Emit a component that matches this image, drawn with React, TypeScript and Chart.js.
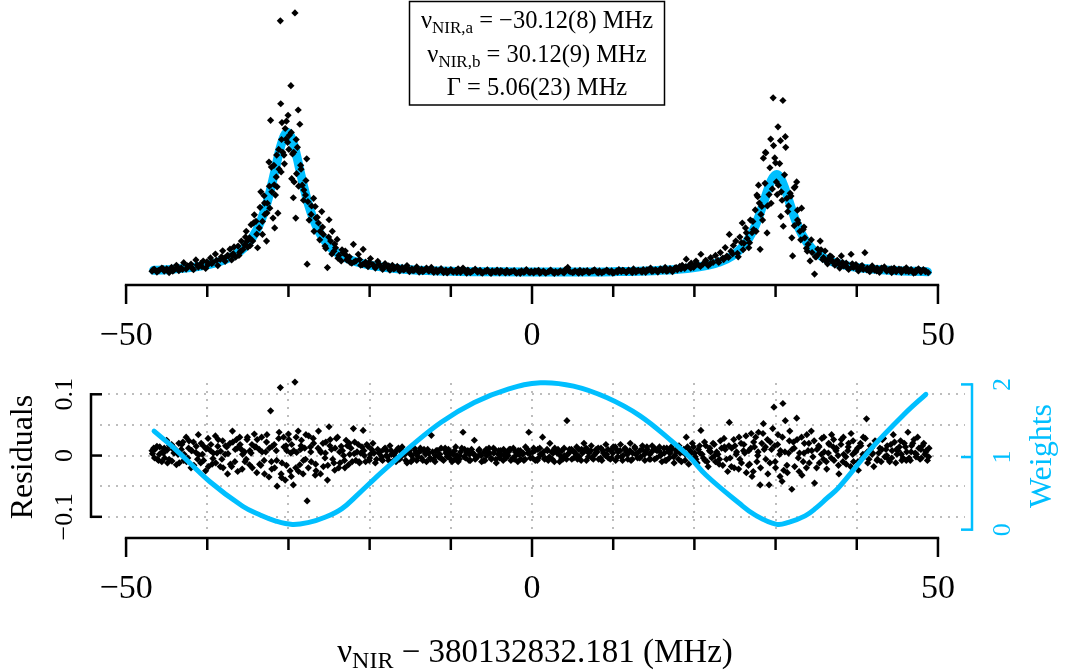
import React, { useEffect, useRef } from 'react';
import { Chart, registerables } from 'chart.js';

Chart.register(...registerables);

// ---------------- data ----------------
// top panel: measured signal (frequency offset in MHz, normalised signal)
const signalPoints: [number, number][] = [
  [-46.8, 0.018], [-46.5, 0.031], [-46.2, 0.012], [-45.9, 0.026], [-45.6, 0.04], [-45.3, 0.019], [-45.0, 0.034], [-44.7, 0.008],
  [-44.4, 0.045], [-44.1, 0.027], [-43.8, 0.06], [-43.5, 0.022], [-43.2, 0.041], [-42.9, 0.078], [-42.6, 0.033], [-42.3, 0.052],
  [-42.0, 0.068], [-41.7, 0.029], [-41.4, 0.098], [-41.1, 0.047], [-40.8, 0.071], [-40.5, 0.09], [-40.2, 0.038], [-39.9, 0.065],
  [-39.6, 0.112], [-39.3, 0.08], [-39.0, 0.139], [-38.7, 0.058], [-38.4, 0.101], [-38.1, 0.162], [-37.8, 0.088], [-37.5, 0.131],
  [-37.2, 0.174], [-37.0, 0.098], [-36.8, 0.142], [-36.5, 0.118], [-36.2, 0.196], [-36.0, 0.15], [-35.8, 0.231], [-35.6, 0.172],
  [-35.4, 0.205], [-35.2, 0.3], [-35.0, 0.188], [-34.8, 0.254], [-34.6, 0.347], [-34.4, 0.232], [-34.2, 0.417], [-34.0, 0.371],
  [-33.8, 0.184], [-33.6, 0.324], [-33.4, 0.58], [-33.2, 0.278], [-33.0, 0.552], [-32.9, 0.42], [-32.7, 0.231], [-32.6, 0.499],
  [-32.4, 0.79], [-32.3, 0.464], [-32.2, 1.086], [-32.1, 0.755], [-31.9, 0.394], [-31.8, 0.767], [-31.7, 0.324], [-31.6, 0.557],
  [-31.5, 0.685], [-31.4, 0.615], [-31.3, 0.429], [-31.2, 0.88], [-31.0, 1.79], [-30.95, 1.203], [-30.9, 0.72], [-30.8, 1.07],
  [-30.7, 0.86], [-30.5, 0.778], [-30.4, 1.028], [-30.3, 0.953], [-30.1, 0.93], [-30.05, 1.121], [-29.9, 0.98], [-29.7, 1.331],
  [-29.6, 0.673], [-29.5, 0.848], [-29.4, 0.538], [-29.3, 0.65], [-29.2, 1.846], [-29.1, 0.394], [-29.0, 0.708], [-28.9, 0.895],
  [-28.8, 1.159], [-28.6, 1.058], [-28.5, 0.767], [-28.3, 0.627], [-28.1, 0.592], [-27.9, 0.557], [-27.75, 0.813], [-27.7, 0.068],
  [-27.6, 0.51], [-27.2, 0.42], [-26.9, 0.534], [-26.7, 0.476], [-26.6, 0.394], [-26.3, 0.359], [-26.1, 0.3], [-25.9, 0.44],
  [-25.7, 0.278], [-25.5, 0.196], [-25.2, 0.044], [-25.0, 0.382], [-24.8, 0.231], [-24.6, 0.3], [-24.4, 0.16], [-24.2, 0.184],
  [-24.0, 0.243], [-23.8, 0.13], [-23.5, 0.091], [-23.3, 0.15], [-23.0, 0.161], [-22.8, 0.098], [-22.5, 0.12], [-22.2, 0.075],
  [-22.0, 0.208], [-21.7, 0.09], [-21.4, 0.138], [-21.1, 0.06], [-20.8, 0.173], [-20.5, 0.082], [-20.2, 0.05], [-19.9, 0.108],
  [-19.6, 0.065], [-19.3, 0.04], [-19.0, 0.088], [-18.7, 0.055], [-18.4, 0.03], [-18.1, 0.072], [-17.8, 0.048], [-17.5, 0.025],
  [-17.2, 0.06], [-16.9, 0.038], [-16.6, 0.052], [-16.3, 0.02], [-16.0, 0.045], [-15.7, 0.03], [-15.4, 0.058], [-15.1, 0.015],
  [-14.8, 0.035], [-14.5, 0.025], [-14.2, 0.048], [-13.9, 0.012], [-13.6, 0.032], [-13.3, 0.022], [-13.0, 0.04],
  [-36.7, 0.19], [-36.1, 0.13], [-35.3, 0.26], [-34.7, 0.2], [-34.3, 0.36], [-33.9, 0.28], [-33.5, 0.47], [-33.2, 0.37],
  [-32.95, 0.5], [-32.65, 0.43], [-32.35, 0.62], [-32.05, 0.58], [-31.75, 0.63], [-31.45, 0.84], [-31.15, 0.74], [-30.85, 0.95],
  [-30.55, 0.84], [-30.25, 1.08], [-29.95, 0.88], [-29.65, 1.0], [-29.35, 0.86], [-29.05, 0.95], [-28.75, 0.62], [-28.45, 0.74],
  [-28.15, 0.52], [-27.85, 0.66], [-27.45, 0.38], [-27.15, 0.48], [-26.85, 0.3], [-26.45, 0.4], [-26.15, 0.24], [-25.8, 0.33],
  [-25.4, 0.18], [-25.05, 0.26], [-24.65, 0.14], [-24.3, 0.21], [-23.9, 0.11], [-23.4, 0.17], [-22.9, 0.13], [-22.4, 0.08],
  [-37.9, 0.11], [-37.4, 0.125], [-36.9, 0.135], [-35.9, 0.16], [-35.1, 0.23], [-22.7, 0.105], [-21.9, 0.085], [-20.9, 0.065],
  [-12.7, 0.018], [-12.4, 0.045], [-12.1, 0.01], [-11.8, 0.028], [-11.5, 0.02], [-11.2, 0.036], [-10.9, 0.008], [-10.6, 0.025],
  [-10.3, 0.015], [-10.0, 0.03], [-9.7, 0.012], [-9.4, 0.022], [-9.1, 0.035], [-8.8, 0.01], [-8.5, 0.04], [-8.2, 0.018],
  [-7.9, 0.026], [-7.6, 0.008], [-7.3, 0.02], [-7.0, 0.032], [-6.7, 0.012], [-6.4, 0.024], [-6.1, 0.005], [-5.8, 0.018],
  [-5.5, 0.028], [-5.2, 0.01], [-4.9, 0.02], [-4.6, 0.014], [-4.3, 0.026], [-4.0, 0.006], [-3.7, 0.018], [-3.4, 0.012],
  [-3.1, 0.024], [-2.8, 0.008], [-2.5, 0.016], [-2.2, 0.022], [-1.9, 0.004], [-1.6, 0.014], [-1.3, 0.02], [-1.0, 0.01],
  [-0.7, 0.03], [-0.4, 0.012], [-0.1, 0.018], [0.2, 0.006], [0.5, 0.016], [0.8, 0.024], [1.1, 0.01], [1.4, 0.018],
  [1.7, 0.004], [2.0, 0.014], [2.3, 0.026], [2.6, 0.01], [2.9, 0.016], [3.2, 0.008], [3.5, 0.02], [3.8, 0.012],
  [4.1, 0.03], [4.4, 0.045], [4.7, 0.014], [5.0, 0.008], [5.3, 0.02], [5.6, 0.012], [5.9, 0.024], [6.2, 0.006],
  [6.5, 0.016], [6.8, 0.022], [7.1, 0.01], [7.4, 0.018], [7.7, 0.028], [8.0, 0.012], [8.3, 0.02], [8.6, 0.006],
  [8.9, 0.016], [9.2, 0.026], [9.5, 0.012], [9.8, 0.02], [10.1, 0.008], [10.4, 0.018], [10.7, 0.03], [11.0, 0.014],
  [11.3, 0.022], [11.6, 0.01], [11.9, 0.026], [12.2, 0.016], [12.5, 0.034], [12.8, 0.012], [13.1, 0.024], [13.4, 0.018],
  [13.7, 0.03], [14.0, 0.01], [14.3, 0.026], [14.6, 0.04], [14.9, 0.018], [15.2, 0.028], [15.5, 0.012], [15.8, 0.034],
  [16.1, 0.022], [16.4, 0.045], [16.7, 0.02], [17.0, 0.036], [17.3, 0.015], [17.6, 0.04], [17.9, 0.028], [18.2, 0.052],
  [18.5, 0.06], [18.8, 0.038], [19.0, 0.103], [19.3, 0.055], [19.6, 0.075], [19.9, 0.045], [20.2, 0.09], [20.5, 0.062],
  [20.8, 0.138], [21.1, 0.07], [21.4, 0.095], [21.7, 0.058], [22.0, 0.114], [22.3, 0.08], [22.6, 0.13], [22.9, 0.095],
  [23.2, 0.15], [23.5, 0.11], [23.8, 0.185], [24.0, 0.125], [24.3, 0.278], [24.5, 0.16], [24.8, 0.2], [25.1, 0.231],
  [25.3, 0.145], [25.6, 0.26], [25.9, 0.359], [26.1, 0.215], [26.3, 0.324], [26.5, 0.25], [26.7, 0.184], [26.9, 0.38],
  [27.1, 0.29], [27.3, 0.313], [27.5, 0.452], [27.7, 0.557], [27.8, 0.545], [27.9, 0.627], [28.1, 0.173], [28.2, 0.42],
  [28.3, 0.476], [28.5, 0.818], [28.75, 0.86], [28.8, 0.855], [28.95, 0.289], [29.2, 0.56], [29.4, 0.953], [29.45, 0.499],
  [29.7, 1.245], [29.75, 0.907], [30.0, 0.785], [30.1, 0.65], [30.3, 1.04], [30.35, 0.627], [30.6, 0.942], [30.65, 0.406],
  [30.7, 0.58], [30.9, 1.226], [30.95, 0.336], [31.2, 0.97], [31.25, 0.895], [31.4, 0.534], [31.6, 0.48], [31.8, 0.569],
  [32.0, 0.254], [32.1, 0.126], [32.3, 0.608], [32.4, 0.615], [32.6, 0.65], [32.7, 0.38], [32.8, 0.359], [33.0, 0.3],
  [33.2, 0.464], [33.4, 0.313], [33.6, 0.254], [33.8, 0.18], [34.0, 0.208], [34.25, 0.091], [34.5, 0.15], [34.8, -0.002],
  [35.0, 0.12], [35.2, 0.175], [35.5, 0.231], [35.8, 0.1], [36.1, 0.161], [36.4, 0.07], [36.7, 0.126], [37.0, 0.085],
  [37.3, 0.06], [37.6, 0.095], [37.9, 0.04], [38.1, 0.126], [38.4, 0.055], [38.7, 0.075], [39.0, 0.03], [39.3, 0.138],
  [39.6, 0.045], [39.9, 0.065], [40.2, 0.02], [40.5, 0.05], [40.8, 0.03], [41.0, 0.149], [41.3, 0.04], [41.6, 0.015],
  [41.9, 0.055], [42.2, 0.025], [42.5, 0.04], [42.8, 0.01], [43.1, 0.035], [43.4, 0.048], [43.7, 0.018], [44.0, 0.03],
  [44.3, 0.008], [44.6, 0.04], [44.9, 0.02], [45.2, 0.032], [45.5, 0.01], [45.8, 0.028], [46.1, 0.042], [46.4, 0.015],
  [46.7, 0.03], [47.0, 0.005], [47.3, 0.025], [47.6, 0.035], [47.9, 0.012], [48.2, 0.03], [48.5, 0.02], [48.8, 0.008],
  [23.0, 0.08], [23.6, 0.1], [24.2, 0.115], [24.7, 0.14], [35.3, 0.14], [35.9, 0.115], [36.5, 0.1], [37.1, 0.085],
  [37.8, 0.07], [38.5, 0.06], [39.5, 0.05],
  [25.4, 0.12], [25.8, 0.22], [26.0, 0.17], [26.4, 0.29], [26.8, 0.22], [27.2, 0.37], [27.6, 0.3], [28.0, 0.5],
  [28.4, 0.38], [28.7, 0.64], [29.0, 0.48], [29.3, 0.75], [29.6, 0.6], [29.9, 0.82], [30.2, 0.56], [30.5, 0.78],
  [30.8, 0.52], [31.1, 0.7], [31.5, 0.44], [31.9, 0.55], [32.3, 0.34], [32.7, 0.45], [33.1, 0.24], [33.5, 0.33],
  [33.9, 0.16], [34.4, 0.24], [34.9, 0.12], [35.6, 0.17], [36.2, 0.09], [36.9, 0.12],
  [-46.65, 0.03], [-46.05, 0.022], [-45.45, 0.036], [-44.85, 0.028], [-44.25, 0.018], [-43.65, 0.044], [-43.05, 0.03], [-42.45, 0.056],
  [-41.85, 0.04], [-41.25, 0.062], [-40.65, 0.05], [-40.05, 0.085], [-39.45, 0.072], [-38.85, 0.095], [-38.25, 0.12],
  [-21.25, 0.1], [-20.65, 0.07], [-20.05, 0.08], [-19.45, 0.055], [-18.85, 0.068], [-18.25, 0.048], [-17.65, 0.055], [-17.05, 0.035],
  [-16.45, 0.042], [-15.85, 0.028], [-15.25, 0.036], [-14.65, 0.022], [-14.05, 0.03], [-13.45, 0.014], [-12.85, 0.028], [-12.25, 0.02],
  [-11.65, 0.012], [-11.05, 0.022], [-10.45, 0.006], [-9.85, 0.018], [-9.25, 0.01], [-8.65, 0.024], [-8.05, 0.004], [-7.45, 0.014],
  [-6.85, 0.02], [-6.25, 0.008], [-5.65, 0.016], [-5.05, 0.002], [-4.45, 0.012], [-3.85, 0.022], [-3.25, 0.006], [-2.65, 0.014],
  [-2.05, 0.01], [-1.45, 0.002], [-0.85, 0.016], [-0.25, 0.008], [0.35, 0.02], [0.95, 0.004], [1.55, 0.012], [2.15, 0.018],
  [2.75, 0.002], [3.35, 0.014], [3.95, 0.006], [4.55, 0.02], [5.15, 0.012], [5.75, 0.004], [6.35, 0.018], [6.95, 0.01],
  [7.55, 0.022], [8.15, 0.006], [8.75, 0.014], [9.35, 0.018], [9.95, 0.004], [10.55, 0.012], [11.15, 0.024], [11.75, 0.016],
  [12.35, 0.008], [12.95, 0.02], [13.55, 0.012], [14.15, 0.028], [14.75, 0.016], [15.35, 0.022], [15.95, 0.03], [16.55, 0.018],
  [17.15, 0.028], [17.75, 0.044], [18.35, 0.034], [18.95, 0.05], [19.55, 0.04], [20.15, 0.066], [20.75, 0.052], [21.35, 0.085],
  [21.95, 0.07],
  [38.25, 0.08], [38.85, 0.045], [39.45, 0.07], [40.05, 0.04], [40.65, 0.058], [41.25, 0.028], [41.85, 0.044], [42.45, 0.02],
  [43.05, 0.04], [43.65, 0.026], [44.25, 0.034], [44.85, 0.014], [45.45, 0.03], [46.05, 0.018], [46.65, 0.026], [47.25, 0.01],
  [47.85, 0.022], [48.45, 0.014],
];

// top panel: fitted two-peak profile
const fitFreq = [
  -46.6, -45, -43, -41, -39, -37, -36, -35, -34, -33.5, -33, -32.5, -32, -31.5, -31, -30.5, -30.12, -29.5, -29, -28.5,
  -28, -27.5, -27, -26.5, -26, -25, -24, -23, -22, -20, -18, -15, -10, -5, 0, 5, 10, 15, 18, 20,
  22, 23, 24, 25, 26, 26.5, 27, 27.5, 28, 28.5, 29, 29.5, 30.12, 30.5, 31, 31.5, 32, 32.5, 33, 33.5,
  34, 35, 36, 37, 39, 41, 43, 45, 47, 48.7,
];
const fitValue = [
  0.024, 0.029, 0.038, 0.052, 0.076, 0.12, 0.157, 0.213, 0.299, 0.36, 0.437, 0.531, 0.645, 0.771, 0.893, 0.979, 1.001, 0.944, 0.837, 0.71,
  0.588, 0.484, 0.398, 0.329, 0.275, 0.197, 0.147, 0.113, 0.09, 0.061, 0.044, 0.029, 0.018, 0.014, 0.012, 0.012, 0.015, 0.022, 0.032, 0.044,
  0.064, 0.081, 0.104, 0.14, 0.194, 0.232, 0.28, 0.34, 0.413, 0.498, 0.587, 0.662, 0.702, 0.687, 0.626, 0.542, 0.453, 0.373, 0.307, 0.253,
  0.211, 0.15, 0.111, 0.085, 0.054, 0.038, 0.028, 0.021, 0.017, 0.014,
];

// bottom panel: residuals
const residualPoints: [number, number][] = [
  [-46.8, 0.008], [-46.5, -0.004], [-46.2, 0.015], [-45.9, 0.002], [-45.6, -0.01], [-45.3, 0.012], [-45.0, 0.025], [-44.7, -0.006],
  [-44.4, 0.018], [-44.1, 0.004], [-43.8, -0.015], [-43.5, 0.02], [-43.2, 0.01], [-42.9, -0.008], [-42.6, 0.03], [-42.3, 0.012],
  [-42.0, -0.02], [-41.7, 0.022], [-41.4, 0.005], [-41.1, 0.034], [-40.8, -0.012], [-40.5, 0.016], [-40.2, -0.025], [-39.9, 0.028],
  [-39.6, 0.008], [-39.3, -0.005], [-39.0, 0.032], [-38.7, 0.015], [-38.4, -0.018], [-38.1, 0.024], [-37.8, 0.002], [-37.5, -0.03],
  [-37.2, 0.02], [-36.9, 0.04], [-36.6, -0.01], [-36.3, 0.012], [-36.0, 0.03], [-35.7, -0.022], [-35.4, 0.006], [-35.1, 0.026],
  [-34.8, -0.015], [-34.5, 0.018], [-34.2, 0.035], [-33.9, -0.028], [-33.6, 0.01], [-33.3, 0.03], [-33.0, -0.008], [-32.7, 0.022],
  [-32.4, -0.035], [-32.2, 0.073], [-32.0, 0.015], [-31.7, -0.02], [-31.4, -0.05], [-31.2, 0.028], [-31.0, 0.111], [-30.8, -0.012],
  [-30.6, 0.03], [-30.4, -0.04], [-30.2, 0.008], [-30.0, 0.035], [-29.8, -0.025], [-29.6, 0.018], [-29.4, -0.048], [-29.2, 0.12],
  [-29.0, 0.005], [-28.8, 0.04], [-28.6, -0.015], [-28.4, 0.025], [-28.2, -0.03], [-28.0, 0.012], [-27.7, -0.074], [-27.5, 0.032],
  [-27.2, -0.01], [-26.9, 0.02], [-26.6, -0.025], [-26.3, 0.04], [-26.0, 0.005], [-25.7, -0.018], [-25.4, 0.022], [-25.2, -0.04],
  [-25.0, 0.047], [-24.7, 0.01], [-24.4, -0.012], [-24.1, 0.028], [-23.8, -0.02], [-23.5, 0.015], [-23.2, 0.0], [-22.9, 0.025],
  [-22.6, -0.015], [-22.3, 0.012], [-22.0, 0.044], [-21.7, -0.008], [-21.4, 0.018], [-21.1, 0.004], [-20.8, 0.041], [-20.5, -0.01],
  [-20.2, 0.015], [-19.9, 0.002], [-19.6, 0.02], [-19.3, -0.012], [-19.0, 0.01],
  [-46.6, 0.012], [-46.0, -0.008], [-45.4, 0.004], [-44.9, -0.012], [-44.2, 0.01], [-43.6, 0.002], [-43.0, 0.022], [-42.4, -0.004],
  [-41.9, 0.008], [-41.2, -0.006], [-40.6, 0.002], [-40.0, 0.012], [-39.4, -0.014], [-38.8, 0.004], [-38.2, -0.006], [-37.6, 0.014],
  [-37.0, -0.018], [-36.4, 0.026], [-35.8, 0.01], [-35.2, -0.006], [-34.6, 0.004], [-34.0, 0.014], [-33.4, -0.016], [-32.8, 0.006],
  [-32.1, -0.01], [-31.5, 0.008], [-30.9, -0.03], [-30.3, 0.016], [-29.7, 0.004], [-29.1, -0.02], [-28.5, 0.01], [-27.9, -0.006],
  [-27.3, 0.014], [-26.7, -0.032], [-26.1, 0.008], [-25.5, -0.004], [-24.9, 0.016], [-24.3, -0.024], [-23.7, 0.006], [-23.1, -0.008],
  [-22.5, 0.02], [-21.9, 0.003], [-21.3, -0.01], [-20.7, 0.008], [-20.0, -0.004],
  [-46.75, 0.003], [-46.45, 0.01], [-46.15, -0.006], [-45.85, 0.014], [-45.55, 0.006], [-45.25, -0.004], [-44.95, 0.009], [-44.65, 0.016],
  [-44.35, -0.009], [-44.05, 0.012], [-43.75, 0.005], [-43.45, -0.012], [-43.15, 0.018], [-42.85, 0.002], [-42.55, -0.01], [-42.25, 0.024],
  [-41.95, 0.008], [-41.65, -0.016], [-41.35, 0.015], [-41.05, 0.001], [-40.75, 0.02], [-40.45, -0.008], [-40.15, 0.011], [-39.85, -0.018],
  [-39.55, 0.018], [-39.25, 0.004], [-38.95, -0.012], [-38.65, 0.026], [-38.35, 0.007], [-38.05, -0.02], [-37.75, 0.016], [-37.45, 0.003],
  [-37.15, -0.014], [-36.85, 0.022], [-36.55, 0.01], [-36.25, -0.026], [-35.95, 0.018], [-35.65, 0.002], [-35.35, -0.01], [-35.05, 0.03],
  [-34.75, 0.008], [-34.45, -0.02], [-34.15, 0.014], [-33.85, 0.026], [-33.55, -0.014], [-33.25, 0.006], [-32.95, -0.03], [-32.65, 0.034],
  [-32.35, 0.012], [-32.05, -0.022], [-31.75, 0.018], [-31.45, -0.008], [-31.15, 0.038], [-30.85, -0.036], [-30.55, 0.014], [-30.25, -0.016],
  [-29.95, 0.026], [-29.65, -0.034], [-29.35, 0.008], [-29.05, 0.03], [-28.75, -0.026], [-28.45, 0.016], [-28.15, -0.008], [-27.85, 0.034],
  [-27.55, -0.02], [-27.25, 0.006], [-26.95, 0.028], [-26.65, -0.014], [-26.35, 0.012], [-26.05, -0.03], [-25.75, 0.02], [-25.45, 0.004],
  [-25.15, -0.016], [-24.85, 0.026], [-24.55, -0.006], [-24.25, 0.012], [-23.95, 0.03], [-23.65, -0.012], [-23.35, 0.008], [-23.05, -0.02],
  [-22.75, 0.016], [-22.45, 0.002], [-22.15, -0.01], [-21.85, 0.022], [-21.55, 0.006], [-21.25, -0.012], [-20.95, 0.014], [-20.65, 0.0],
  [-20.35, 0.018], [-20.05, -0.008], [-19.75, 0.01], [-19.45, 0.004], [-19.15, -0.006],
  [-18.7, 0.006], [-18.4, -0.008], [-18.1, 0.012], [-17.8, -0.002], [-17.5, 0.016], [-17.2, -0.01], [-16.9, 0.004], [-16.6, 0.01],
  [-16.3, -0.006], [-16.0, 0.014], [-15.7, 0.002], [-15.4, -0.012], [-15.1, 0.008], [-14.8, 0.0], [-14.5, 0.012], [-14.2, -0.008],
  [-13.9, 0.006], [-13.6, -0.004], [-13.3, 0.01], [-13.0, -0.01], [-12.7, 0.004], [-12.4, 0.033], [-12.1, -0.006], [-11.8, 0.008],
  [-11.5, -0.002], [-11.2, 0.012], [-10.9, -0.008], [-10.6, 0.004], [-10.3, 0.01], [-10.0, -0.006], [-9.7, 0.002], [-9.4, 0.014],
  [-9.1, -0.01], [-8.8, 0.006], [-8.5, 0.038], [-8.2, -0.004], [-7.9, 0.008], [-7.6, -0.008], [-7.3, 0.004], [-7.1, 0.025],
  [-6.8, -0.002], [-6.5, 0.01], [-6.2, -0.01], [-5.9, 0.006], [-5.6, 0.0], [-5.3, 0.012], [-5.0, -0.006], [-4.7, 0.004],
  [-4.4, -0.012], [-4.1, 0.008], [-3.8, 0.002], [-3.5, 0.01], [-3.2, -0.004], [-2.9, 0.006], [-2.6, -0.008], [-2.3, 0.012],
  [-2.0, 0.0], [-1.7, 0.008], [-1.4, -0.006], [-1.1, 0.004], [-0.8, 0.014], [-0.4, 0.038], [-0.2, -0.004], [0.1, 0.006],
  [0.4, -0.008], [0.7, 0.01], [1.0, 0.002], [1.3, 0.03], [1.6, -0.004], [1.9, 0.008], [2.2, 0.02], [2.5, -0.006],
  [2.8, 0.012], [3.1, 0.004], [3.4, -0.01], [3.7, 0.008], [4.0, 0.0], [4.3, 0.057], [4.6, 0.01], [4.9, -0.006],
  [5.2, 0.006], [5.5, 0.014], [5.8, -0.002], [6.1, 0.01], [6.4, 0.02], [6.7, -0.008], [7.0, 0.004], [7.3, 0.016],
  [7.6, 0.0], [7.9, 0.01], [8.2, -0.006], [8.5, 0.012], [8.8, 0.004], [9.1, 0.018], [9.4, -0.004], [9.7, 0.008],
  [10.0, 0.014], [10.3, -0.008], [10.6, 0.006], [10.9, 0.018], [11.2, 0.0], [11.5, 0.01], [11.8, -0.006], [12.1, 0.02],
  [12.4, 0.004], [12.7, 0.012], [13.0, -0.004], [13.3, 0.008], [13.6, 0.016], [13.9, -0.008], [14.2, 0.01], [14.5, 0.002],
  [14.8, 0.016], [15.1, -0.006], [15.4, 0.008], [15.7, 0.014], [16.0, -0.01], [16.3, 0.004], [16.6, 0.012], [16.9, -0.004],
  [17.2, 0.01], [17.5, -0.012], [17.8, 0.006], [18.1, 0.016],
  [-18.5, -0.002], [-17.9, 0.008], [-17.3, 0.002], [-16.7, -0.004], [-16.1, 0.006], [-15.5, 0.004], [-14.9, -0.01], [-14.3, 0.004],
  [-13.7, 0.008], [-13.1, 0.002], [-12.5, -0.006], [-11.9, 0.0], [-11.3, -0.004], [-10.7, 0.012], [-10.1, 0.002], [-9.5, -0.006],
  [-8.9, 0.0], [-8.3, 0.01], [-7.7, 0.002], [-7.0, -0.006], [-6.4, 0.002], [-5.8, -0.008], [-5.2, 0.004], [-4.6, 0.01],
  [-4.0, -0.004], [-3.4, 0.0], [-2.8, 0.01], [-2.2, -0.006], [-1.6, 0.002], [-1.0, -0.008], [-0.5, 0.004], [0.2, 0.012],
  [0.8, -0.004], [1.4, 0.006], [2.0, -0.008], [2.6, 0.004], [3.2, 0.01], [3.8, -0.006], [4.4, 0.002], [5.0, 0.008],
  [5.6, -0.006], [6.2, 0.004], [6.8, 0.01], [7.4, -0.004], [8.0, 0.006], [8.6, -0.008], [9.2, 0.002], [9.8, -0.004],
  [10.4, 0.01], [11.0, -0.002], [11.6, 0.006], [12.2, -0.008], [12.8, 0.002], [13.4, -0.002], [14.0, 0.006], [14.6, -0.006],
  [15.2, 0.01], [15.8, 0.0], [16.4, -0.008], [17.0, 0.004], [17.6, 0.0],
  [-18.85, 0.004], [-18.55, -0.006], [-18.25, 0.01], [-17.95, 0.0], [-17.65, -0.008], [-17.35, 0.008], [-17.05, 0.002], [-16.75, -0.01],
  [-16.45, 0.012], [-16.15, -0.002], [-15.85, 0.006], [-15.55, -0.008], [-15.25, 0.01], [-14.95, 0.002], [-14.65, -0.006], [-14.35, 0.008],
  [-14.05, -0.002], [-13.75, 0.012], [-13.45, -0.008], [-13.15, 0.004], [-12.85, 0.01], [-12.55, -0.004], [-12.25, 0.006], [-11.95, -0.01],
  [-11.65, 0.008], [-11.35, 0.002], [-11.05, -0.006], [-10.75, 0.01], [-10.45, -0.002], [-10.15, 0.006], [-9.85, -0.01], [-9.55, 0.008],
  [-9.25, 0.0], [-8.95, -0.006], [-8.65, 0.012], [-8.35, -0.002], [-8.05, 0.004], [-7.75, -0.008], [-7.45, 0.01], [-7.15, 0.002],
  [-6.85, -0.004], [-6.55, 0.008], [-6.25, 0.0], [-5.95, -0.008], [-5.65, 0.01], [-5.35, 0.004], [-5.05, -0.004], [-4.75, 0.012],
  [-4.45, -0.006], [-4.15, 0.002], [-3.85, 0.008], [-3.55, -0.008], [-3.25, 0.006], [-2.95, 0.0], [-2.65, 0.01], [-2.35, -0.004],
  [-2.05, 0.006], [-1.75, -0.01], [-1.45, 0.008], [-1.15, 0.002], [-0.85, -0.006], [-0.55, 0.01], [-0.25, 0.004], [0.05, -0.004],
  [0.35, 0.008], [0.65, -0.008], [0.95, 0.012], [1.25, 0.002], [1.55, -0.006], [1.85, 0.01], [2.15, -0.002], [2.45, 0.006],
  [2.75, -0.01], [3.05, 0.008], [3.35, 0.002], [3.65, -0.004], [3.95, 0.012], [4.25, -0.006], [4.55, 0.004], [4.85, 0.01],
  [5.15, -0.004], [5.45, 0.002], [5.75, 0.01], [6.05, -0.008], [6.35, 0.006], [6.65, 0.012], [6.95, -0.002], [7.25, 0.008],
  [7.55, -0.006], [7.85, 0.004], [8.15, 0.012], [8.45, -0.004], [8.75, 0.008], [9.05, 0.0], [9.35, 0.01], [9.65, -0.006],
  [9.95, 0.004], [10.25, 0.014], [10.55, -0.002], [10.85, 0.008], [11.15, -0.008], [11.45, 0.012], [11.75, 0.002], [12.05, 0.008],
  [12.35, -0.006], [12.65, 0.014], [12.95, 0.004], [13.25, -0.004], [13.55, 0.01], [13.85, 0.002], [14.15, 0.014], [14.45, -0.006],
  [14.75, 0.006], [15.05, 0.012], [15.35, -0.004], [15.65, 0.008], [15.95, 0.002], [16.25, 0.012], [16.55, -0.008], [16.85, 0.006],
  [17.15, 0.014], [17.45, -0.002], [17.75, 0.01], [18.05, -0.006], [18.25, 0.004],
  [18.4, -0.01], [18.7, 0.01], [19.0, 0.03], [19.3, -0.014], [19.6, 0.004], [19.9, 0.014], [20.2, -0.006], [20.5, 0.01],
  [20.8, 0.041], [21.1, -0.004], [21.4, 0.016], [21.7, -0.018], [22.0, 0.006], [22.3, 0.02], [22.6, -0.01], [22.9, 0.002],
  [23.2, 0.024], [23.5, -0.016], [23.8, 0.01], [24.1, -0.026], [24.3, 0.054], [24.6, 0.012], [24.9, -0.02], [25.2, 0.006],
  [25.5, 0.03], [25.8, -0.012], [26.1, 0.018], [26.4, -0.028], [26.7, 0.008], [27.0, 0.036], [27.1, -0.034], [27.4, 0.014],
  [27.7, -0.01], [27.9, 0.038], [28.1, -0.048], [28.3, 0.02], [28.5, 0.052], [28.8, -0.006], [29.0, 0.026], [29.2, -0.048],
  [29.5, 0.01], [29.8, 0.079], [30.0, -0.02], [30.3, 0.034], [30.5, 0.002], [30.8, -0.042], [30.9, 0.085], [31.2, 0.057],
  [31.4, -0.016], [31.7, 0.024], [32.0, -0.055], [32.3, 0.012], [32.6, 0.061], [32.9, -0.026], [33.2, 0.03], [33.5, 0.004],
  [33.8, -0.02], [34.1, 0.02], [34.4, 0.04], [34.8, -0.045], [35.1, 0.01], [35.4, -0.012], [35.7, 0.028], [36.0, 0.006],
  [36.3, -0.022], [36.6, 0.018], [36.9, 0.034], [37.2, -0.008], [37.5, 0.012], [37.8, -0.03], [38.1, 0.026], [38.4, 0.002],
  [38.7, -0.014], [39.0, 0.02], [39.3, 0.036], [39.6, -0.01], [39.9, 0.008], [40.2, -0.024], [40.5, 0.016], [40.8, 0.03],
  [41.2, 0.06], [41.5, -0.006], [41.8, 0.012], [42.1, -0.018], [42.4, 0.022], [42.7, 0.004], [43.0, -0.01], [43.3, 0.028],
  [43.6, 0.01], [43.9, -0.006], [44.2, 0.018], [44.5, 0.034], [44.8, -0.012], [45.1, 0.008], [45.4, 0.024], [45.7, -0.004],
  [46.0, 0.014], [46.3, 0.038], [46.6, -0.008], [46.9, 0.02], [47.2, 0.004], [47.5, 0.03], [47.8, -0.006], [48.1, 0.016],
  [48.4, 0.002], [48.7, -0.008], [48.9, 0.012],
  [18.9, 0.002], [19.5, 0.008], [20.1, -0.002], [20.7, 0.004], [21.3, -0.008], [21.9, 0.012], [22.5, 0.0], [23.1, -0.006],
  [23.7, 0.014], [24.4, -0.004], [25.0, 0.016], [25.6, -0.006], [26.2, 0.004], [26.8, -0.014], [27.3, 0.022], [27.8, 0.0],
  [28.6, 0.01], [29.3, -0.012], [29.9, 0.016], [30.6, 0.008], [31.0, -0.024], [31.6, 0.004], [32.2, 0.022], [32.8, -0.004],
  [33.4, -0.01], [34.0, 0.008], [34.6, -0.002], [35.3, 0.016], [35.9, -0.006], [36.5, 0.004], [37.1, 0.014], [37.7, 0.0],
  [38.3, -0.01], [38.9, 0.008], [39.5, 0.002], [40.1, 0.012], [40.7, -0.004], [41.3, 0.006], [41.9, 0.002], [42.5, -0.008],
  [43.1, 0.01], [43.7, 0.0], [44.3, -0.004], [44.9, 0.01], [45.5, 0.002], [46.1, -0.008], [46.7, 0.006], [47.3, -0.002],
  [47.9, 0.01], [48.5, 0.006],
  [18.55, 0.006], [18.85, -0.008], [19.15, 0.014], [19.45, -0.002], [19.75, 0.02], [20.05, 0.004], [20.35, -0.012], [20.65, 0.016],
  [20.95, 0.002], [21.25, 0.022], [21.55, -0.01], [21.85, 0.008], [22.15, -0.004], [22.45, 0.018], [22.75, 0.006], [23.05, -0.014],
  [23.35, 0.012], [23.65, 0.028], [23.95, -0.006], [24.25, 0.016], [24.55, -0.018], [24.85, 0.026], [25.15, 0.002], [25.45, -0.022],
  [25.75, 0.02], [26.05, 0.008], [26.35, 0.032], [26.65, -0.016], [26.95, 0.012], [27.25, -0.026], [27.55, 0.03], [27.85, 0.006],
  [28.15, -0.02], [28.45, 0.036], [28.75, 0.014], [29.05, -0.03], [29.35, 0.022], [29.65, 0.044], [29.95, -0.01], [30.25, 0.018],
  [30.55, -0.034], [30.85, 0.03], [31.15, 0.006], [31.45, -0.028], [31.75, 0.04], [32.05, 0.01], [32.35, -0.018], [32.65, 0.026],
  [32.95, 0.004], [33.25, -0.032], [33.55, 0.02], [33.85, 0.034], [34.15, -0.012], [34.45, 0.008], [34.75, 0.024], [35.05, -0.02],
  [35.35, 0.014], [35.65, 0.002], [35.95, 0.03], [36.25, -0.01], [36.55, 0.02], [36.85, -0.004], [37.15, 0.026], [37.45, 0.008],
  [37.75, -0.016], [38.05, 0.018], [38.35, 0.03], [38.65, -0.002], [38.95, 0.014], [39.25, -0.018], [39.55, 0.024], [39.85, 0.006],
  [40.15, -0.01], [40.45, 0.02], [40.75, 0.002], [41.05, 0.028], [41.35, -0.012], [41.65, 0.016], [41.95, 0.004], [42.25, 0.024],
  [42.55, -0.006], [42.85, 0.012], [43.15, 0.026], [43.45, -0.002], [43.75, 0.016], [44.05, -0.01], [44.35, 0.008], [44.65, 0.022],
  [44.95, 0.002], [45.25, 0.014], [45.55, -0.008], [45.85, 0.02], [46.15, 0.006], [46.45, -0.004], [46.75, 0.016], [47.05, 0.026],
  [47.35, 0.002], [47.65, 0.012], [47.95, -0.004], [48.25, 0.02], [48.55, 0.008], [48.85, -0.002],
];

// bottom panel: weights curve (right axis)
const weightFreq = [
  -46.55, -43.79, -39.71, -35.64, -33.6, -31.56, -29.52, -27.48, -25.5, -23.41, -21.4, -19.34, -17.3, -15.26, -11.19, -7.11,
  -3.03, 1.04, 5.11, 9.19, 13.26, 17.33, 19.38, 21.42, 25.49, 27.5, 30.13, 31.6, 33.64, 35.0, 36.3, 37.71, 41.78, 45.87, 48.51,
];
const weightValue = [
  1.356, 1.093, 0.663, 0.322, 0.208, 0.118, 0.072, 0.1, 0.17, 0.29, 0.49, 0.707, 0.912, 1.116, 1.479, 1.751,
  1.932, 2.023, 1.977, 1.819, 1.57, 1.207, 1.003, 0.753, 0.367, 0.2, 0.073, 0.1, 0.19, 0.3, 0.43, 0.571, 1.116, 1.592, 1.864,
];

// axes
const freqTicks = [-50, -40, -30, -20, -10, 0, 10, 20, 30, 40, 50];
const freqLabels = [-50, 0, 50];
const gridFreqs = [-40, -30, -20, -10, 0, 10, 20, 30, 40];
const residualTicks = [0.1, 0, -0.1];
const residualGrid = [0.1, 0.05, 0, -0.05, -0.1];
const weightTicks = [0, 1, 2];

const boxLines = [
  [{ t: 'ν' }, { t: 'NIR,a', sub: true }, { t: ' = −30.12(8) MHz' }],
  [{ t: 'ν' }, { t: 'NIR,b', sub: true }, { t: ' = 30.12(9) MHz' }],
  [{ t: 'Γ = 5.06(23) MHz' }],
];
const xTitle = [{ t: 'ν' }, { t: 'NIR', sub: true }, { t: ' − 380132832.181 (MHz)' }];
const yTitleLeft = 'Residuals';
const yTitleRight = 'Weights';

// ---------------- layout / style ----------------
const W = 1068;
const H = 671;
const FONT = '"Liberation Serif", "Times New Roman", Times, serif';
const CYAN = '#00BFFF';

// pixel anchors of each scale
const X_ANCHOR = { v0: -50, p0: 123, v1: 50, p1: 941 };
const SIG_ANCHOR = { v0: 0, p0: 273, v1: 1, p1: 130 };
const RES_ANCHOR = { v0: 0, p0: 457, v1: 0.1, p1: 395 };
const W_ANCHOR = { v0: 0, p0: 532, v1: 2, p1: 385 };

function valAt(a: { v0: number; p0: number; v1: number; p1: number }, p: number) {
  return a.v0 + ((p - a.p0) * (a.v1 - a.v0)) / (a.p1 - a.p0);
}

const TOP_AXIS_Y = 285;
const BOT_AXIS_Y = 538;
const TICK_MINOR = 12;
const TICK_MAJOR = 19;
const TOP_LABEL_BASE = 345;
const BOT_LABEL_BASE = 598;
const LEFT_AXIS_X = 91;
const RIGHT_AXIS_X = 972;
const GRID_BOX = { left: 100, right: 965, top: 383, bottom: 530 };
const MARK_R = 3.6;

const fmt = (v: number) => (v < 0 ? '\u2212' + String(-v) : String(v));

type Part = { t: string; sub?: boolean };

function drawRich(ctx: CanvasRenderingContext2D, parts: Part[], cx: number, base: number, size: number, subSize: number, drop: number) {
  let total = 0;
  const widths: number[] = [];
  for (const p of parts) {
    ctx.font = `${p.sub ? subSize : size}px ${FONT}`;
    const w = ctx.measureText(p.t).width;
    widths.push(w);
    total += w;
  }
  let x = cx - total / 2;
  ctx.textAlign = 'left';
  ctx.textBaseline = 'alphabetic';
  parts.forEach((p, i) => {
    ctx.font = `${p.sub ? subSize : size}px ${FONT}`;
    ctx.fillText(p.t, x, p.sub ? base + drop : base);
    x += widths[i];
  });
}

function rotText(ctx: CanvasRenderingContext2D, text: string, x: number, y: number, size: number, color: string) {
  ctx.save();
  ctx.translate(x, y);
  ctx.rotate(-Math.PI / 2);
  ctx.font = `${size}px ${FONT}`;
  ctx.fillStyle = color;
  ctx.textAlign = 'center';
  ctx.textBaseline = 'middle';
  ctx.fillText(text, 0, 0);
  ctx.restore();
}

function seg(ctx: CanvasRenderingContext2D, x1: number, y1: number, x2: number, y2: number) {
  ctx.beginPath();
  ctx.moveTo(x1, y1);
  ctx.lineTo(x2, y2);
  ctx.stroke();
}

const rAxesPlugin = {
  id: 'rAxes',
  beforeDatasetsDraw(chart: any) {
    const ctx: CanvasRenderingContext2D = chart.ctx;
    const xs = chart.scales.x;
    const yr = chart.scales.yRes;
    ctx.save();
    ctx.strokeStyle = '#bdbdbd';
    ctx.lineWidth = 2;
    ctx.setLineDash([2, 6]);
    for (const f of gridFreqs) {
      const px = Math.round(xs.getPixelForValue(f));
      seg(ctx, px, GRID_BOX.top, px, GRID_BOX.bottom);
    }
    for (const r of residualGrid) {
      const py = Math.round(yr.getPixelForValue(r));
      seg(ctx, GRID_BOX.left, py, GRID_BOX.right, py);
    }
    ctx.restore();
  },
  afterDatasetsDraw(chart: any) {
    const ctx: CanvasRenderingContext2D = chart.ctx;
    const xs = chart.scales.x;
    const yr = chart.scales.yRes;
    const yw = chart.scales.yW;
    ctx.save();
    ctx.lineCap = 'butt';
    ctx.lineWidth = 2.5;
    ctx.strokeStyle = '#000';
    ctx.fillStyle = '#000';

    // x axes (top and bottom panels)
    for (const [ay, lb] of [[TOP_AXIS_Y, TOP_LABEL_BASE], [BOT_AXIS_Y, BOT_LABEL_BASE]]) {
      const x0 = xs.getPixelForValue(freqTicks[0]);
      const x1 = xs.getPixelForValue(freqTicks[freqTicks.length - 1]);
      seg(ctx, x0 - 1.25, ay, x1 + 1.25, ay);
      for (const t of freqTicks) {
        const px = xs.getPixelForValue(t);
        const len = freqLabels.includes(t) ? TICK_MAJOR : TICK_MINOR;
        seg(ctx, px, ay, px, ay + len);
      }
      ctx.font = `34px ${FONT}`;
      ctx.textAlign = 'center';
      ctx.textBaseline = 'alphabetic';
      for (const t of freqLabels) {
        ctx.fillText(fmt(t), xs.getPixelForValue(t), lb);
      }
    }

    // left (residual) axis
    const r0 = yr.getPixelForValue(residualTicks[0]);
    const r1 = yr.getPixelForValue(residualTicks[residualTicks.length - 1]);
    seg(ctx, LEFT_AXIS_X, r0 - 1.25, LEFT_AXIS_X, r1 + 1.25);
    for (const t of residualTicks) {
      const py = yr.getPixelForValue(t);
      seg(ctx, LEFT_AXIS_X, py, LEFT_AXIS_X + 11, py);
      rotText(ctx, fmt(t), 65, py, 26, '#000');
    }
    rotText(ctx, yTitleLeft, 24, 457, 32, '#000');

    // right (weights) axis
    ctx.strokeStyle = CYAN;
    const w0 = yw.getPixelForValue(weightTicks[0]);
    const w1 = yw.getPixelForValue(weightTicks[weightTicks.length - 1]);
    seg(ctx, RIGHT_AXIS_X, w0 + 1.25, RIGHT_AXIS_X, w1 - 1.25);
    for (const t of weightTicks) {
      const py = yw.getPixelForValue(t);
      seg(ctx, RIGHT_AXIS_X, py, RIGHT_AXIS_X - 11, py);
      rotText(ctx, fmt(t), 1003, py, 26, CYAN);
    }
    rotText(ctx, yTitleRight, 1043, 456, 32, CYAN);

    // x title
    ctx.fillStyle = '#000';
    drawRich(ctx, xTitle, 535, 662, 33, 24, 6);

    // box with fit results
    ctx.fillStyle = '#fff';
    ctx.fillRect(409, 1, 256, 104);
    ctx.strokeStyle = '#000';
    ctx.lineWidth = 1.5;
    ctx.strokeRect(409.5, 1.5, 255, 103.5);
    ctx.fillStyle = '#000';
    const bases = [28, 62, 95];
    boxLines.forEach((ln, i) => drawRich(ctx, ln as Part[], 537, bases[i], 24.5, 17, 5));
    ctx.restore();
  },
};

export default function App() {
  const ref = useRef<HTMLCanvasElement>(null);
  useEffect(() => {
    if (!ref.current) return;
    const chart = new Chart(ref.current, {
      type: 'scatter',
      data: {
        datasets: [
          {
            label: 'signal',
            data: signalPoints.map(([x, y]) => ({ x, y })),
            xAxisID: 'x',
            yAxisID: 'ySig',
            pointStyle: 'rectRot',
            pointRadius: MARK_R,
            pointBackgroundColor: '#000',
            pointBorderWidth: 0,
            showLine: false,
            order: 1,
          },
          {
            label: 'fit',
            data: fitFreq.map((x, i) => ({ x, y: fitValue[i] })),
            xAxisID: 'x',
            yAxisID: 'ySig',
            showLine: true,
            borderColor: CYAN,
            borderWidth: 9,
            borderCapStyle: 'round',
            borderJoinStyle: 'round',
            cubicInterpolationMode: 'monotone',
            pointRadius: 0,
            order: 2,
          },
          {
            label: 'residuals',
            data: residualPoints.map(([x, y]) => ({ x, y })),
            xAxisID: 'x',
            yAxisID: 'yRes',
            pointStyle: 'rectRot',
            pointRadius: MARK_R,
            pointBackgroundColor: '#000',
            pointBorderWidth: 0,
            showLine: false,
            order: 1,
          },
          {
            label: 'weights',
            data: weightFreq.map((x, i) => ({ x, y: weightValue[i] })),
            xAxisID: 'x',
            yAxisID: 'yW',
            showLine: true,
            borderColor: CYAN,
            borderWidth: 5,
            borderCapStyle: 'round',
            borderJoinStyle: 'round',
            tension: 0.4,
            pointRadius: 0,
            order: 0,
          },
        ] as any,
      },
      options: {
        animation: false,
        responsive: false,
        devicePixelRatio: 1,
        events: [],
        layout: { padding: 0 },
        plugins: { legend: { display: false }, tooltip: { enabled: false } },
        scales: {
          x: { type: 'linear', display: false, min: valAt(X_ANCHOR, 0), max: valAt(X_ANCHOR, W) },
          ySig: { type: 'linear', display: false, min: valAt(SIG_ANCHOR, H), max: valAt(SIG_ANCHOR, 0) },
          yRes: { type: 'linear', display: false, min: valAt(RES_ANCHOR, H), max: valAt(RES_ANCHOR, 0) },
          yW: { type: 'linear', display: false, min: valAt(W_ANCHOR, H), max: valAt(W_ANCHOR, 0) },
        },
      } as any,
      plugins: [rAxesPlugin],
    });
    return () => chart.destroy();
  }, []);
  return (
    <div style={{ position: 'absolute', left: 0, top: 0, width: W, height: H, background: '#fff' }}>
      <canvas ref={ref} width={W} height={H} style={{ display: 'block', width: W, height: H }} />
    </div>
  );
}
